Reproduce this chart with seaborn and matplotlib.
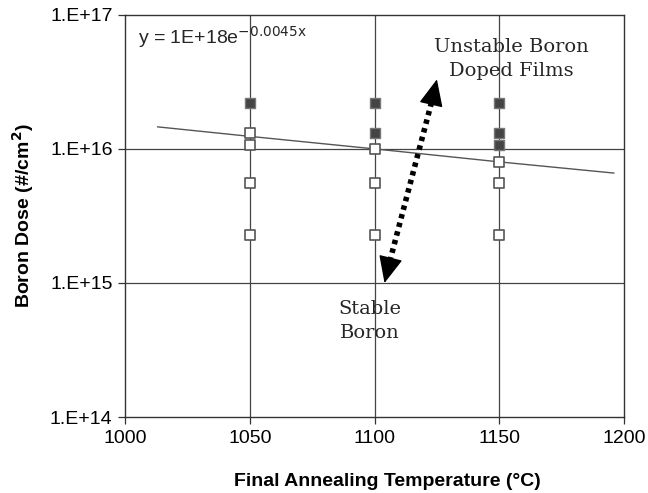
import matplotlib
matplotlib.use("Agg")
import matplotlib.pyplot as plt
import seaborn as sns
import pandas as pd

# filled squares: unstable boron doped films
unstable_temp = [1050, 1100, 1100, 1150, 1150, 1150]
unstable_dose = [2.2e16, 2.2e16, 1.32e16, 2.2e16, 1.32e16, 1.06e16]

# open squares: stable boron
stable_temp = [1050, 1050, 1050, 1050, 1100, 1100, 1100, 1150, 1150, 1150]
stable_dose = [1.32e16, 1.06e16, 5.6e15, 2.28e15, 1.0e16, 5.6e15, 2.28e15,
               8.0e15, 5.6e15, 2.28e15]

# exponential fit line
fit_temp = [1013, 1050, 1100, 1150, 1196]
fit_dose = [1.46e16, 1.24e16, 1.0e16, 8.0e15, 6.6e15]

x_ticks = [1000, 1050, 1100, 1150, 1200]
y_ticks = [1e14, 1e15, 1e16, 1e17]
y_tick_labels = ["1.E+14", "1.E+15", "1.E+16", "1.E+17"]

sns.set_style("white")
plt.rcParams["font.family"] = ["Liberation Sans", "DejaVu Sans"]

fig = plt.figure(figsize=(6.48, 4.93), dpi=100)
ax = fig.add_axes([0.193, 0.154, 0.770, 0.816])

unstable = pd.DataFrame({"temp": unstable_temp, "dose": unstable_dose})
stable = pd.DataFrame({"temp": stable_temp, "dose": stable_dose})
fit = pd.DataFrame({"temp": fit_temp, "dose": fit_dose})

ax.set_yscale("log")
ax.set_xlim(1000, 1200)
ax.set_ylim(1e14, 1e17)

# grid lines at major ticks only
for xv in x_ticks[1:-1]:
    ax.axvline(xv, color="#444444", lw=0.9, zorder=1)
for yv in y_ticks[1:-1]:
    ax.axhline(yv, color="#444444", lw=0.9, zorder=1)

sns.lineplot(data=fit, x="temp", y="dose", ax=ax, color="#555555", lw=1.0, zorder=2)
sns.scatterplot(data=stable, x="temp", y="dose", ax=ax, marker="s", s=55,
                color="white", edgecolor="#555555", linewidth=1.2, zorder=3)
sns.scatterplot(data=unstable, x="temp", y="dose", ax=ax, marker="s", s=55,
                color="#444444", edgecolor="#777777", linewidth=1.0, zorder=3)

# dotted double-headed arrow
tip_low = (1104, 1.0e15)
tip_high = (1125, 3.3e16)
ax.plot([1105.2, 1123.8], [1.25e15, 2.6e16], color="black", lw=4,
        linestyle=(0, (0.8, 0.8)), zorder=4)
for tip, base in [(tip_low, (1105.5, 1.3e15)), (tip_high, (1123.5, 2.5e16))]:
    ax.annotate("", xy=tip, xytext=base,
                arrowprops=dict(arrowstyle="-|>,head_length=1.0,head_width=0.45",
                                color="black", lw=1, mutation_scale=17,
                                shrinkA=0, shrinkB=0), zorder=5)

ax.text(1154.7, 4.66e16, "Unstable Boron\nDoped Films", ha="center", va="center",
        family=["DejaVu Serif"], fontsize=14, linespacing=1.45)
ax.text(1098, 5.2e14, "Stable\nBoron", ha="center", va="center",
        family=["DejaVu Serif"], fontsize=14, linespacing=1.45)
ax.text(1005, 6.85e16, r"y = 1E+18e$^{\mathrm{-0.0045x}}$", ha="left", va="center",
        fontsize=14)

ax.set_xticks(x_ticks)
ax.set_xticklabels([str(v) for v in x_ticks])
ax.set_yticks(y_ticks)
ax.set_yticklabels(y_tick_labels)
ax.minorticks_off()
ax.tick_params(axis="both", direction="out", length=5, width=0.9, color="#333333",
               labelsize=14, labelcolor="black", pad=4, bottom=True, left=True)

for side in ax.spines.values():
    side.set_color("#333333")
    side.set_linewidth(1.0)

ax.set_xlabel("Final Annealing Temperature (°C)", fontsize=14, fontweight="bold",
              color="black")
ax.xaxis.set_label_coords(0.525, -0.14)
ax.set_ylabel("Boron Dose (#/cm$^\\mathbf{2}$)", fontsize=14, fontweight="bold",
              labelpad=10, color="black")

fig.savefig("out.png", dpi=100)
